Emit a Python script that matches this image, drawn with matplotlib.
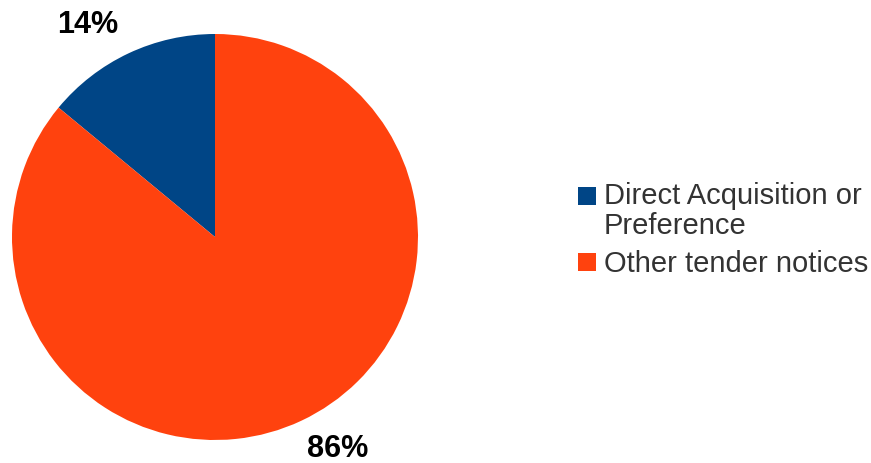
import matplotlib
matplotlib.use("Agg")
import matplotlib.pyplot as plt
from matplotlib.patches import Patch, Rectangle
from matplotlib.legend_handler import HandlerPatch

categories = ["Direct Acquisition or\nPreference", "Other tender notices"]
shares = [14, 86]
colors = ["#004586", "#ff420e"]
# label anchor points (data units, pie radius = 1)
label_pos = [(-0.626, 1.044), (0.606, -1.042)]

FONT_SIZE = 21
LINE_SPACING = 1.1

plt.rcParams['font.family'] = ['Liberation Sans', 'DejaVu Sans']

fig = plt.figure(figsize=(8.71, 4.63), dpi=100)
ax = fig.add_axes([12 / 871, 23 / 463, 406 / 871, 406 / 463])
ax.pie(shares, colors=colors, startangle=90, counterclock=True, radius=1,
       wedgeprops=dict(linewidth=0))
ax.set_xlim(-1, 1)
ax.set_ylim(-1, 1)
ax.set_aspect("equal")
ax.axis("off")

for v, (x, y) in zip(shares, label_pos):
    ax.text(x, y, f"{v}%", ha="center", va="center", fontsize=22,
            fontweight="bold", color="black", clip_on=False)


def first_line_square(nlines):
    # keep the key square level with the first line of a wrapped label
    shift = (nlines - 1) * 0.5 * LINE_SPACING * FONT_SIZE

    def make(legend, orig_handle, xdescent, ydescent, width, height, fontsize):
        return Rectangle((-xdescent, -ydescent + shift), width, height)
    return HandlerPatch(patch_func=make)


handles = [Patch(facecolor=c, edgecolor="none") for c in colors]
handler_map = {h: first_line_square(lab.count("\n") + 1)
               for h, lab in zip(handles, categories)}
leg = fig.legend(handles, categories, loc="upper left",
                 bbox_to_anchor=(578 / 871, 1 - 182 / 463), frameon=False,
                 fontsize=FONT_SIZE, handlelength=0.6, handleheight=0.55,
                 handletextpad=0.28, labelspacing=0.35, borderpad=0,
                 borderaxespad=0, handler_map=handler_map)
for t in leg.get_texts():
    t.set_color("#333333")
    t.set_linespacing(LINE_SPACING)

fig.savefig("out.png", dpi=100)
